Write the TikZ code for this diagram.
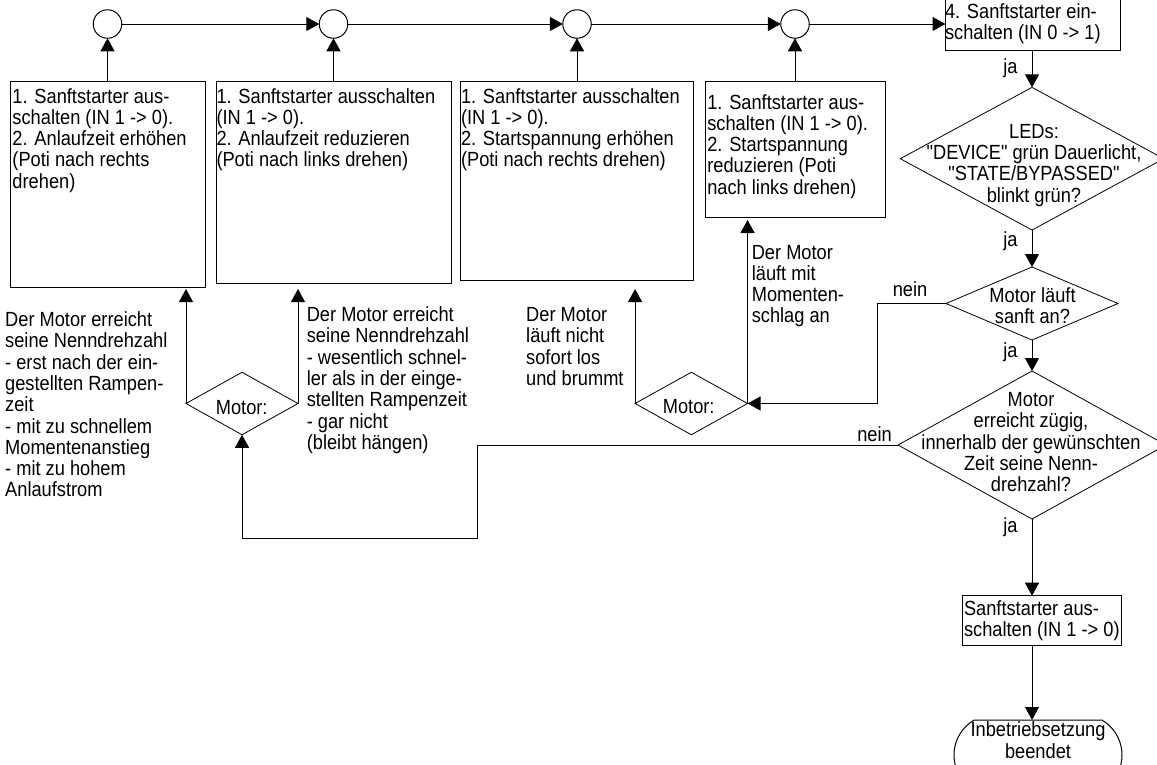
\documentclass[tikz,border=0pt]{standalone}
\usepackage{fontspec}
\setmainfont{Liberation Sans}[FakeStretch=0.89, Ligatures=TeXOff]
\usetikzlibrary{arrows.meta,shapes.geometric,shapes.misc}
\newcommand\mlL[1]{\begin{tabular}[t]{@{}l@{}}#1\end{tabular}}
\newcommand\mlC[1]{\begin{tabular}[t]{@{}c@{}}#1\end{tabular}}
\begin{document}
\begin{tikzpicture}[x=1pt,y=-1pt,
  every node/.style={font=\fontsize{20.5}{21.3}\selectfont, inner sep=0pt, outer sep=0pt},
  box/.style={draw, line width=1pt, rectangle, anchor=north west},
  circ/.style={draw, circle, line width=1pt, minimum size=28.5pt},
  dia/.style={draw, diamond, line width=0.8pt},
  term/.style={draw, rounded rectangle, rounded rectangle arc length=120, line width=1pt},
  tl/.style={anchor=north west, yshift=14.91pt},
  tc/.style={anchor=north, yshift=14.91pt},
  lab/.style={anchor=base},
  arr/.style={line width=1pt, -{Triangle[length=13pt,width=14pt]}}]
\useasboundingbox (0,0) rectangle (1157,764);
\clip (0,0) rectangle (1157,764);

% circles
\node[circ] (c1) at (107.5,24) {};
\node[circ] (c2) at (333.5,24) {};
\node[circ] (c3) at (577,24) {};
\node[circ] (c4) at (795,24) {};

% boxes
\node[box, minimum width=195.5pt, minimum height=206pt] (b1) at (10,81) {};
\node[box, minimum width=235pt, minimum height=202pt] (b2) at (216.7,81) {};
\node[box, minimum width=232.3pt, minimum height=199pt] (b3) at (460.7,81) {};
\node[box, minimum width=179.3pt, minimum height=136pt] (b4) at (705.7,81) {};
\node[box, minimum width=175pt, minimum height=52pt] (b5) at (945.5,-2) {};
\node[box, minimum width=159.4pt, minimum height=49.6pt] (b6) at (962.3,595.7) {};

% diamonds
\node[dia, minimum width=112pt, minimum height=62.5pt] (m1) at (242,403.5) {};
\node[dia, minimum width=112.5pt, minimum height=62.5pt] (m2) at (691.3,403.5) {};
\node[dia, minimum width=263.4pt, minimum height=142.7pt] (d1) at (1032,158.7) {};
\node[dia, minimum width=172pt, minimum height=73pt] (d2) at (1032,303.5) {};
\node[dia, minimum width=268pt, minimum height=148pt] (d3) at (1032,445) {};

% terminator
\node[term, minimum width=168pt, minimum height=70pt] (term) at (1038,755) {};

% texts in boxes
\node[tl] (t1) at (12.5,103) {\mlL{1. Sanftstarter aus-\\schalten (IN 1 -> 0).\\2. Anlaufzeit erhöhen\\(Poti nach rechts\\drehen)}};
\node[tl] (t2) at (216.5,103) {\mlL{1. Sanftstarter ausschalten\\(IN 1 -> 0).\\2. Anlaufzeit reduzieren\\(Poti nach links drehen)}};
\node[tl] (t3) at (461,103) {\mlL{1. Sanftstarter ausschalten\\(IN 1 -> 0).\\2. Startspannung erhöhen\\(Poti nach rechts drehen)}};
\node[tl] (t4) at (707.3,109) {\mlL{1. Sanftstarter aus-\\schalten (IN 1 -> 0).\\2. Startspannung\\reduzieren (Poti\\nach links drehen)}};
\node[tl] (t5) at (945,18.5) {\mlL{4. Sanftstarter ein-\\schalten (IN 0 -> 1)}};
\node[tl] (t6) at (964,615) {\mlL{Sanftstarter aus-\\schalten (IN 1 -> 0)}};

% free texts
\node[tl] (l1) at (5.2,326.5) {\mlL{Der Motor erreicht\\seine Nenndrehzahl\\- erst nach der ein-\\gestellten Rampen-\\zeit\\- mit zu schnellem\\Momentenanstieg\\- mit zu hohem\\Anlaufstrom}};
\node[tl] (l2) at (306.8,321.5) {\mlL{Der Motor erreicht\\seine Nenndrehzahl\\- wesentlich schnel-\\ler als in der einge-\\stellten Rampenzeit\\- gar nicht\\(bleibt hängen)}};
\node[tl] (l3) at (526.2,321.5) {\mlL{Der Motor\\läuft nicht\\sofort los\\und brummt}};
\node[tl] (l4) at (751.8,259) {\mlL{Der Motor\\läuft mit\\Momenten-\\schlag an}};

% texts in diamonds
\node[lab] (m1t) at (241.7,414.5) {Motor:};
\node[lab] (m2t) at (688.7,413.5) {Motor:};
\node[tc] (d1t) at (1034,138.3) {\mlC{LEDs:\\"DEVICE" grün Dauerlicht,\\"STATE/BYPASSED"\\blinkt grün?}};
\node[tc] (d2t) at (1032.5,302) {\mlC{Motor läuft\\sanft an?}};
\node[tc] (d3t) at (1031,406.5) {\mlC{Motor\\erreicht zügig,\\innerhalb der gewünschten\\Zeit seine Nenn-\\drehzahl?}};
\node[tc] (termt) at (1038,736.7) {\mlC{Inbetriebsetzung\\beendet}};

% labels
\node[lab] (ja1) at (1010.5,73) {ja};
\node[lab] (ja2) at (1010.5,246) {ja};
\node[lab] (ja3) at (1010.5,357.5) {ja};
\node[lab] (ja4) at (1010.5,532) {ja};
\node[lab] (nein1) at (910,296.7) {nein};
\node[lab] (nein2) at (874.5,441.7) {nein};

% helper coordinates
\coordinate (ty) at (0,289);
\coordinate (tz) at (0,220);
\coordinate (k1) at (477,538);
\coordinate (k2) at (877,403.5);

% connectors
\draw[arr] (c1.east) -- (c2.west);
\draw[arr] (c2.east) -- (c3.west);
\draw[arr] (c3.east) -- (c4.west);
\draw[arr] (c4.east) -- (c4.east -| b5.west);
\draw[arr] (c1 |- b1.north) -- (c1.south);
\draw[arr] (c2 |- b2.north) -- (c2.south);
\draw[arr] (c3 |- b3.north) -- (c3.south);
\draw[arr] (c4 |- b4.north) -- (c4.south);
\draw[arr] (d1.north |- b5.south) -- (d1.north);
\draw[arr] (d1.south) -- (d2.north);
\draw[arr] (d2.south) -- (d3.north);
\draw[arr] (d3.south) -- (d3.south |- b6.north);
\draw[arr] (d3.south |- b6.south) -- (d3.south |- term.north);
\draw[arr] (d3.west) -| (k1) -| (m1.south);
\draw[arr] (d2.west) -| (k2) -- (m2.east);
\draw[arr] (m1.west) -- (m1.west |- ty);
\draw[arr] (m1.east) -- (m1.east |- ty);
\draw[arr] (m2.west) -- (m2.west |- ty);
\draw[arr] (m2.east) -- (m2.east |- tz);
\end{tikzpicture}
\end{document}
